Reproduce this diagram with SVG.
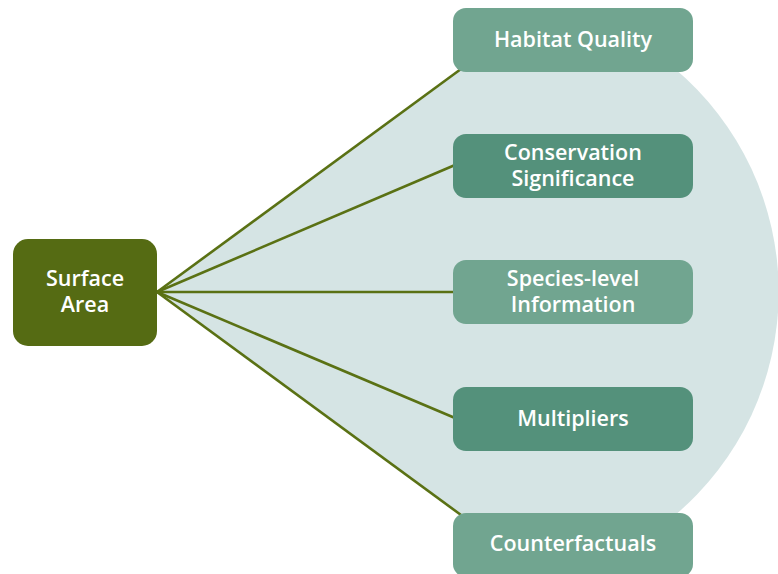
<svg xmlns="http://www.w3.org/2000/svg" width="778" height="574" viewBox="0 0 778 574">
<style>
.lbl{font-family:"Open Sans","Liberation Sans",sans-serif;font-weight:600;font-size:21.5px;fill:#ffffff;text-anchor:middle}
.light{fill:#71a590}
.dark{fill:#54917b}
.conn line{stroke:#5a7114;stroke-width:2.6;fill:none}
</style>
<rect width="778" height="574" fill="#ffffff"/>
<path id="fan" d="M157,292 L462,68 L674,68 A292,292 0 0 1 674,516 L462,516 Z" fill="#d5e4e4"/>
<g id="connectors" class="conn">
<line x1="157" y1="292" x2="461" y2="69"/>
<line x1="157" y1="292" x2="455" y2="165"/>
<line x1="157" y1="292" x2="455" y2="292"/>
<line x1="157" y1="292" x2="455" y2="418"/>
<line x1="157" y1="292" x2="461" y2="515"/>
</g>
<g id="surface-area">
<rect x="13" y="239" width="144" height="107" rx="15" fill="#556b13"/>
<text class="lbl" x="85" y="286">Surface</text>
<text class="lbl" x="85" y="312">Area</text>
</g>
<g id="habitat-quality">
<rect class="light" x="453" y="8" width="240" height="64" rx="13"/>
<text class="lbl" x="573" y="47">Habitat Quality</text>
</g>
<g id="conservation-significance">
<rect class="dark" x="453" y="134" width="240" height="64" rx="13"/>
<text class="lbl" x="573" y="159.5">Conservation</text>
<text class="lbl" x="573" y="186">Significance</text>
</g>
<g id="species-level-information">
<rect class="light" x="453" y="260" width="240" height="64" rx="13"/>
<text class="lbl" x="573" y="285.5">Species-level</text>
<text class="lbl" x="573" y="312">Information</text>
</g>
<g id="multipliers">
<rect class="dark" x="453" y="387" width="240" height="64" rx="13"/>
<text class="lbl" x="573" y="426">Multipliers</text>
</g>
<g id="counterfactuals">
<rect class="light" x="453" y="513" width="240" height="64" rx="13"/>
<text class="lbl" x="573" y="551">Counterfactuals</text>
</g>
</svg>
